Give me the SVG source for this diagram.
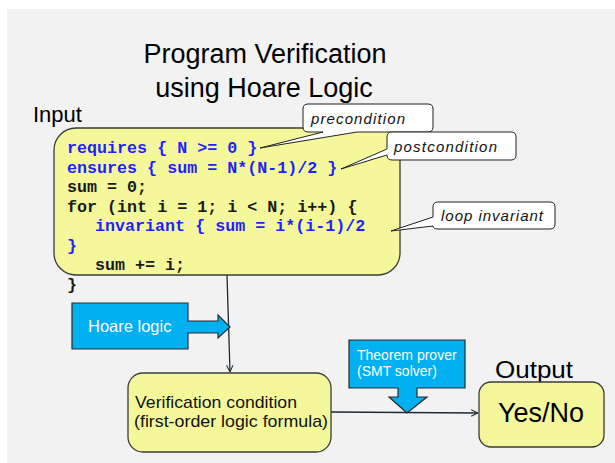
<svg xmlns="http://www.w3.org/2000/svg" width="615" height="463" viewBox="0 0 615 463">
<defs>
<style>
.sans{font-family:"Liberation Sans",Arial,sans-serif;}
.box{fill:#f4f89b;stroke:#3a3a3a;stroke-width:1.3;}
.call{fill:#ffffff;stroke:#222;stroke-width:1;}
.blk{fill:#00b0f0;stroke:#2a2a2a;stroke-width:1.2;}
.code{font-family:"Liberation Mono","Courier New",monospace;font-weight:bold;font-size:16.7px;fill:#1a1a1a;white-space:pre;}
.blue{fill:#1f1fff;}
.it{font-family:"Liberation Sans",Arial,sans-serif;font-style:italic;font-size:15px;fill:#111;}
.conn{stroke:#1c2a38;stroke-width:1.3;fill:none;}
.wt{fill:#ffffff;}
</style>
<marker id="arr" viewBox="0 0 10 10" refX="9.5" refY="5" markerWidth="8" markerHeight="8" orient="auto" markerUnits="userSpaceOnUse">
<path d="M1,1 L9.5,5 L1,9" fill="none" stroke="#1c2a38" stroke-width="1.3"/>
</marker>
</defs>
<rect x="7" y="9" width="608" height="454" fill="#f2f2f2"/>
<g id="title" class="sans" font-size="27" fill="#000" text-anchor="middle">
<text x="265" y="63">Program Verification</text>
<text x="264" y="97">using Hoare Logic</text>
</g>
<g id="input-label"><text class="sans" x="33" y="122" font-size="22" fill="#000">Input</text></g>
<g id="connectors">
<path class="conn" d="M227,275 L230,372" marker-end="url(#arr)"/>
<path class="conn" d="M331,412 L478,413" marker-end="url(#arr)"/>
</g>
<g id="code">
<rect class="box" x="54" y="128" width="346" height="147" rx="22"/>
<text class="code blue" x="67" y="153">requires { N &gt;= 0 }</text>
<text class="code blue" x="67" y="172.5">ensures { sum = N*(N-1)/2 }</text>
<text class="code" x="67" y="192">sum = 0;</text>
<text class="code" x="67" y="211.5">for (int i = 1; i &lt; N; i++) {</text>
<text class="code blue" x="95" y="231">invariant { sum = i*(i-1)/2</text>
<text class="code blue" x="67" y="250.5">}</text>
<text class="code" x="95" y="270">sum += i;</text>
<text class="code" x="67" y="289.5">}</text>
</g>
<g id="precondition">
<path class="call" d="M308,104 H428 Q433,104 433,109 V127 Q433,132 428,132 H357 L260,148 L323,132 H308 Q303,132 303,127 V109 Q303,104 308,104 Z"/>
<text class="it" x="311" y="124" textLength="94" lengthAdjust="spacing">precondition</text>
</g>
<g id="postcondition">
<path class="call" d="M392,132 H511 Q516,132 516,137 V155 Q516,160 511,160 H392 Q387,160 387,155 L341,169 L387,149 V137 Q387,132 392,132 Z"/>
<text class="it" x="394" y="152" textLength="103" lengthAdjust="spacing">postcondition</text>
</g>
<g id="loop-invariant">
<path class="call" d="M438,202 H550 Q555,202 555,207 V224 Q555,229 550,229 H438 Q433,229 433,226 L391,231 L433,217 V207 Q433,202 438,202 Z"/>
<text class="it" x="441" y="221" textLength="102" lengthAdjust="spacing">loop invariant</text>
</g>
<g id="hoare-logic">
<path class="blk" d="M72,303 H188 V321 H218 V315 L230,327 L218,338 V333 H188 V349 H72 Z"/>
<text class="sans wt" x="88" y="332" font-size="16.5">Hoare logic</text>
</g>
<g id="verification-condition">
<rect class="box" x="128" y="373" width="203" height="79" rx="15"/>
<text class="sans" x="135" y="408" font-size="17" fill="#111" textLength="162" lengthAdjust="spacingAndGlyphs">Verification condition</text>
<text class="sans" x="134" y="427" font-size="17" fill="#111" textLength="194" lengthAdjust="spacingAndGlyphs">(first-order logic formula)</text>
</g>
<g id="theorem-prover">
<path class="blk" d="M349,340 H465 V388 H417 V397 H427 L407,413 L389,397 H398 V388 H349 Z"/>
<text class="sans wt" x="357" y="360" font-size="14">Theorem prover</text>
<text class="sans wt" x="357" y="376" font-size="14">(SMT solver)</text>
</g>
<g id="output">
<text class="sans" x="495" y="378" font-size="23" fill="#000" textLength="78" lengthAdjust="spacingAndGlyphs">Output</text>
<rect class="box" x="479" y="382" width="125" height="65" rx="12"/>
<text class="sans" x="541" y="422" font-size="27" fill="#000" text-anchor="middle">Yes/No</text>
</g>
</svg>
